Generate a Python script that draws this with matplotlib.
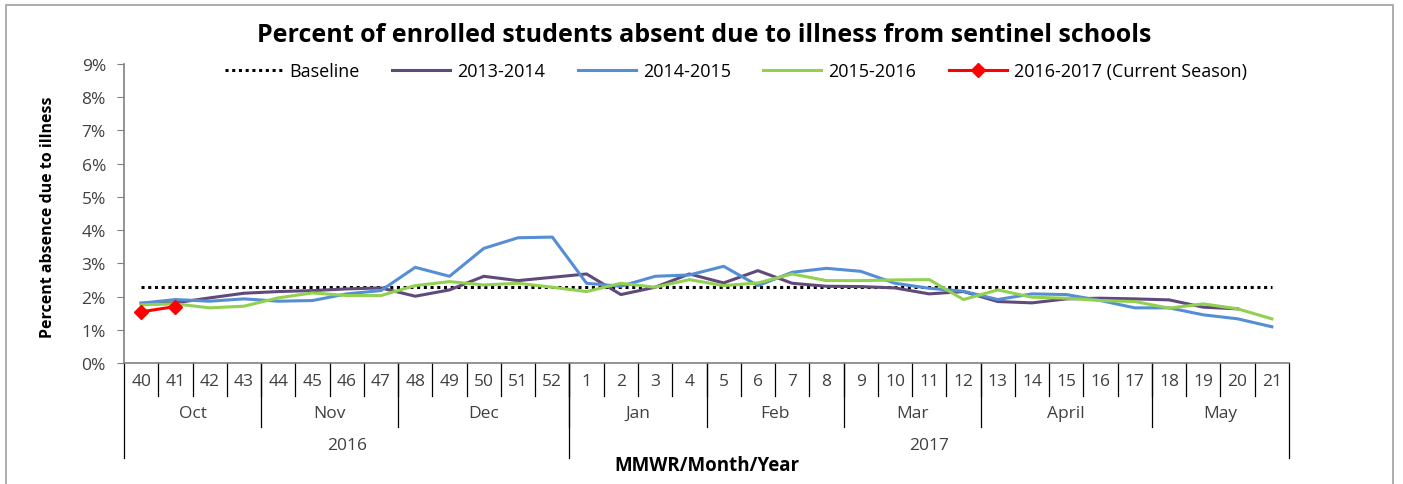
import numpy as np
import matplotlib
matplotlib.use("Agg")
import matplotlib.pyplot as plt
from matplotlib.lines import Line2D
from matplotlib.patches import Rectangle
import matplotlib.transforms as mtransforms

# ---- data -----------------------------------------------------------------
weeks = [40, 41, 42, 43, 44, 45, 46, 47, 48, 49, 50, 51, 52,
         1, 2, 3, 4, 5, 6, 7, 8, 9, 10, 11, 12, 13, 14, 15, 16, 17, 18, 19, 20, 21]
months = ["Oct", "Nov", "Dec", "Jan", "Feb", "Mar", "April", "May"]
month_weeks = [4, 4, 5, 4, 4, 4, 5, 4]
years = ["2016", "2017"]
year_weeks = [13, 21]

baseline = 2.3
nan = np.nan
s1314 = [1.80, 1.81, 1.96, 2.10, 2.15, 2.18, 2.23, 2.26, 2.01, 2.20, 2.61, 2.48, 2.58,
         2.68, 2.06, 2.28, 2.68, 2.41, 2.78, 2.40, 2.31, 2.30, 2.26, 2.08, 2.15,
         1.85, 1.81, 1.93, 1.95, 1.93, 1.90, 1.68, 1.63, nan]
s1415 = [1.80, 1.91, 1.86, 1.93, 1.86, 1.88, 2.08, 2.18, 2.88, 2.61, 3.45, 3.77, 3.79,
         2.40, 2.31, 2.61, 2.65, 2.91, 2.33, 2.73, 2.85, 2.76, 2.40, 2.25, 2.16,
         1.91, 2.08, 2.06, 1.88, 1.66, 1.66, 1.45, 1.33, 1.09]
s1516 = [1.75, 1.78, 1.66, 1.71, 1.96, 2.11, 2.03, 2.03, 2.33, 2.45, 2.35, 2.40, 2.28,
         2.15, 2.40, 2.28, 2.51, 2.33, 2.41, 2.68, 2.48, 2.48, 2.50, 2.51, 1.91,
         2.20, 1.98, 1.95, 1.88, 1.85, 1.65, 1.78, 1.63, 1.33]
s1617 = [1.54, 1.70] + [nan] * 32

# ---- style ----------------------------------------------------------------
FONT = ["Open Sans", "DejaVu Sans"]
plt.rcParams.update({"font.family": FONT, "font.size": 12})
TICKC = "#404040"
AXC = "#808080"
PURPLE, BLUE, GREEN, RED = "#604A7B", "#558ED5", "#92D050", "#FF0000"
LAB = 12.5   # category/tick label size

W, H = 1403, 485
fig = plt.figure(figsize=(W / 100, H / 100), dpi=100)
fig.patches.append(Rectangle((6 / W, -0.01), (1393 - 6) / W, 1 - 6 / H + 0.01,
                             transform=fig.transFigure, fill=False,
                             edgecolor="#A0A0A0", lw=1.2))

L, R, T, B = 124, 1289, 65, 364
ax = fig.add_axes([L / W, 1 - B / H, (R - L) / W, (B - T) / H])

x = np.arange(len(weeks))
ax.hlines(baseline, x[0], x[-1], colors="black", linestyles=(0, (1, 1.2)), lw=2.2,
          label="Baseline")
ax.plot(x, s1314, color=PURPLE, lw=2.2, label="2013-2014")
ax.plot(x, s1415, color=BLUE, lw=2.2, label="2014-2015")
ax.plot(x, s1516, color=GREEN, lw=2.2, label="2015-2016")
ax.plot(x, s1617, color=RED, lw=2.2, marker="D", ms=7, label="2016-2017 (Current Season)")

ax.set_xlim(-0.5, len(weeks) - 0.5)
ax.set_ylim(0, 9)
ax.set_yticks(np.arange(0, 10))
ax.set_yticklabels([f"{v}%" for v in range(10)], color=TICKC, fontsize=LAB)
ax.tick_params(axis="y", length=5, color=AXC, pad=8)
ax.set_xticks([])
for s in ("top", "right"):
    ax.spines[s].set_visible(False)
for s in ("left", "bottom"):
    ax.spines[s].set_color(AXC)
    ax.spines[s].set_linewidth(1.2)

# multi-level category axis (week / month / year)
ph = B - T


def fy(py):
    return (B - py) / ph


tr = mtransforms.blended_transform_factory(ax.transData, ax.transAxes)
y_week, y_month, y_year = fy(397), fy(428), fy(459)


def vline(xv, y1):
    ax.add_line(Line2D([xv, xv], [0, y1], transform=tr, color="black", lw=0.9,
                       clip_on=False))


for i, w in enumerate(weeks):
    ax.text(i, fy(382), str(w), transform=tr, ha="center", va="center",
            fontsize=LAB, color=TICKC)
for k in range(1, len(weeks)):
    vline(k - 0.5, y_week)
pos = 0
for m, n in zip(months, month_weeks):
    ax.text(pos + n / 2 - 0.5, fy(414), m, transform=tr, ha="center", va="center",
            fontsize=LAB, color=TICKC)
    pos += n
    if pos < len(weeks):
        vline(pos - 0.5, y_month)
pos = 0
for yl, n in zip(years, year_weeks):
    ax.text(pos + n / 2 - 0.5, fy(446), yl, transform=tr, ha="center", va="center",
            fontsize=LAB, color=TICKC)
    pos += n
    vline(pos - 0.5, y_year)
vline(-0.5, y_year)

ax.text(0.5, fy(466), "MMWR/Month/Year", transform=ax.transAxes, ha="center",
        va="center", fontsize=13.5, fontweight="bold")
fig.text(48 / W, 1 - 217 / H, "Percent absence due to illness", rotation=90,
         ha="center", va="center", fontsize=11.5, fontweight="bold")
fig.text(704 / W, 1 - 36 / H, "Percent of enrolled students absent due to illness from sentinel schools",
         ha="center", va="center", fontsize=18, fontweight="bold")

ax.legend(loc="center", bbox_to_anchor=(0.525, fy(72)), ncol=5, frameon=False,
          handlelength=3.2, handletextpad=0.4, columnspacing=1.8, fontsize=13,
          borderpad=0)

fig.savefig("out.png", dpi=100)
